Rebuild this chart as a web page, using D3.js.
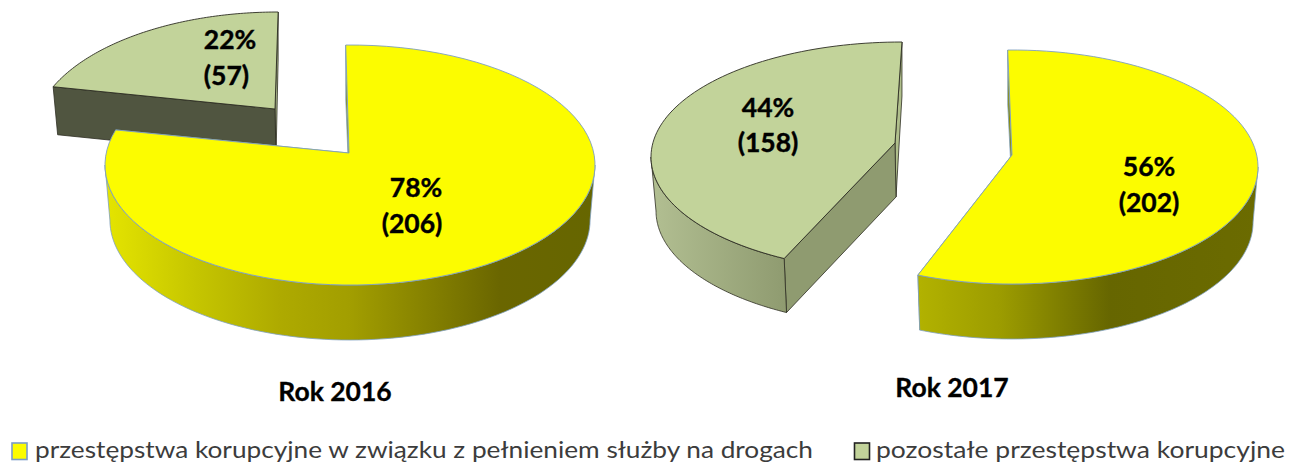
<!DOCTYPE html>
<html lang="pl">
<head>
<meta charset="utf-8">
<script src="https://cdn.jsdelivr.net/npm/d3@7/dist/d3.min.js"></script>
<style>html,body{margin:0;padding:0;background:#fff}svg{display:block}</style>
</head>
<body>
<svg id="c" width="1289" height="463"></svg>
<script>
const categories = ["przestępstwa korupcyjne w związku z pełnieniem służby na drogach", "pozostałe przestępstwa korupcyjne"];
const years = ["Rok 2016", "Rok 2017"];
const values2016 = [206, 57];
const values2017 = [202, 158];

const W = 1289, H = 463;
const svg = d3.select("#c").attr("viewBox", [0, 0, W, H]);
const defs = svg.append("defs");
const FONT = "Lato, Carlito, 'Open Sans', sans-serif";
const YELLOW = "#fcfc00", GREEN = "#c2d39a";
const BLUE_EDGE = "#7f9fc0", DARK_EDGE = "#2d2d22";

// Layout of the tilted pies: every slice is exploded, so has its own ellipse.
const layout2016 = [
  { cx: 350, cy: 165, rx: 245, ry: 120, ax: 349, ay: 153, depth: 55, start: -1, stretch: 1.0213, fill: YELLOW, edge: BLUE_EDGE,
    startWall: "#8c8c00", endWall: "#8c8c00",
    stops: [[107, "#e4e400"], [200, "#c4c400"], [280, "#aeaa00"], [350, "#a29e00"], [500, "#6a6600"], [595, "#666600"]] },
  { cx: 278, cy: 136, rx: 245, ry: 124, ax: 275, ay: 109, depth: 48, start: 293.4, stretch: 0.854, fill: GREEN, edge: DARK_EDGE,
    startWall: "#505540", endWall: "#a9b58a", stops: [[40, "#505540"], [280, "#505540"]] }
];
const layout2017 = [
  { cx: 1012, cy: 167, rx: 246, ry: 117, ax: 1012, ay: 155, depth: 55, start: -1, stretch: 1.0074, fill: YELLOW, edge: BLUE_EDGE,
    startWall: "#8c8c00", endWall: "#8c8c00",
    stops: [[918, "#b2b200"], [1000, "#9c9c00"], [1110, "#666600"], [1258, "#6b6b00"]] },
  { cx: 902, cy: 157, rx: 251, ry: 115, ax: 895, ay: 143, depth: 54, start: 208, stretch: 0.962, fill: GREEN, edge: DARK_EDGE,
    startWall: "#8f9b70", endWall: "#b0bf8c",
    stops: [[651, "#b2bf92"], [786, "#8f9b70"]] }
];
const labelPos2016 = [[416, 197, 412, 233], [230, 49, 226.5, 85]];
const labelPos2017 = [[1149, 176, 1149, 212], [768, 117, 768, 152]];

const pie = d3.pie().sort(null).value(d => d);
const rad = d => d * Math.PI / 180;
const deg = r => r * 180 / Math.PI;
const line = d3.line();
const rimPoint = (s, t, dy = 0, k = 1) => [s.cx + k * s.rx * Math.sin(rad(t)), s.cy - s.ry * Math.cos(rad(t)) + dy];
const sweep = (a, b) => d3.range(0, 91).map(i => a + (b - a) * i / 90);

function drawPie(id, values, layout, labels) {
  const total = d3.sum(values);
  const arcs = pie(values);
  const order = d3.range(values.length).sort((a, b) => layout[a].fill === GREEN ? -1 : 1);
  const g = svg.append("g").attr("class", "pie-" + id);
  order.forEach(i => {
    const s = layout[i], a = arcs[i];
    const t0 = s.start, t1 = s.start + s.stretch * deg(a.endAngle - a.startAngle);
    const slice = g.append("g");
    const K = 0.98;
    const p0 = rimPoint(s, t0), p1 = rimPoint(s, t1);
    const p0b = rimPoint(s, t0, s.depth, K), p1b = rimPoint(s, t1, s.depth, K);
    const apexB = [s.ax + 1, s.ay + s.depth];
    slice.append("path").attr("d", line([p1, [s.ax, s.ay], apexB, p1b]) + "Z")
      .attr("fill", s.endWall).attr("stroke", s.edge).attr("stroke-width", 0.8);
    slice.append("path").attr("d", line([p0, [s.ax, s.ay], apexB, p0b]) + "Z")
      .attr("fill", s.startWall).attr("stroke", s.edge).attr("stroke-width", 0.8);
    const w0 = Math.max(t0, 90), w1 = Math.min(t1, 270);
    if (w1 > w0) {
      const gid = "grad-" + id + "-" + i;
      const gr = defs.append("linearGradient").attr("id", gid).attr("gradientUnits", "userSpaceOnUse")
        .attr("x1", s.stops[0][0]).attr("x2", s.stops[s.stops.length - 1][0]).attr("y1", 0).attr("y2", 0);
      const off = d3.scaleLinear().domain([s.stops[0][0], s.stops[s.stops.length - 1][0]]).range([0, 1]);
      s.stops.forEach(st => gr.append("stop").attr("offset", off(st[0])).attr("stop-color", st[1]));
      const top = sweep(w0, w1).map(t => rimPoint(s, t));
      const bottom = sweep(w1, w0).map(t => rimPoint(s, t, s.depth, K));
      slice.append("path").attr("d", line(top.concat(bottom)) + "Z")
        .attr("fill", `url(#${gid})`).attr("stroke", s.edge).attr("stroke-width", 0.8);
    }
    const face = sweep(t0, t1).map(t => rimPoint(s, t));
    slice.append("path").attr("d", line([[s.ax, s.ay]].concat(face)) + "Z")
      .attr("fill", s.fill).attr("stroke", s.edge).attr("stroke-width", 0.9).attr("stroke-linejoin", "miter");
  });
  values.forEach((v, i) => {
    const [x1, y1, x2, y2] = labels[i];
    const t = g.append("g").attr("font-family", FONT).attr("font-weight", 700).attr("font-size", 26.5)
      .attr("fill", "#000").attr("stroke", "#000").attr("stroke-width", 0.4).attr("text-anchor", "middle");
    t.append("text").attr("x", x1).attr("y", y1).text(d3.format(".0%")(v / total));
    t.append("text").attr("x", x2).attr("y", y2).text(`(${v})`);
  });
}

drawPie("2016", values2016, layout2016, labelPos2016);
drawPie("2017", values2017, layout2017, labelPos2017);

// Year captions
const yearPos = [[335, 401], [952, 397]];
svg.append("g").selectAll("text").data(years).join("text")
  .attr("x", (d, i) => yearPos[i][0]).attr("y", (d, i) => yearPos[i][1])
  .attr("text-anchor", "middle").attr("font-family", FONT).attr("font-weight", 700)
  .attr("font-size", 26.5).attr("fill", "#000").attr("stroke", "#000").attr("stroke-width", 0.3).text(d => d);

// Legend
const legendPos = [
  { sx: 12, tx: 35, tw: 778, fill: YELLOW, edge: "#7a9cc8" },
  { sx: 854.5, tx: 876, tw: 409, fill: GREEN, edge: "#222" }
];
const leg = svg.append("g").selectAll("g").data(categories).join("g");
leg.append("rect").attr("x", (d, i) => legendPos[i].sx).attr("y", 443).attr("width", 15).attr("height", 16.5)
  .attr("fill", (d, i) => legendPos[i].fill).attr("stroke", (d, i) => legendPos[i].edge).attr("stroke-width", 1.6);
leg.append("text").attr("x", (d, i) => legendPos[i].tx).attr("y", 458)
  .attr("font-family", FONT).attr("font-size", 24).attr("fill", "#3c3c3c")
  .attr("textLength", (d, i) => legendPos[i].tw).attr("lengthAdjust", "spacingAndGlyphs").text(d => d);
</script>
</body>
</html>
